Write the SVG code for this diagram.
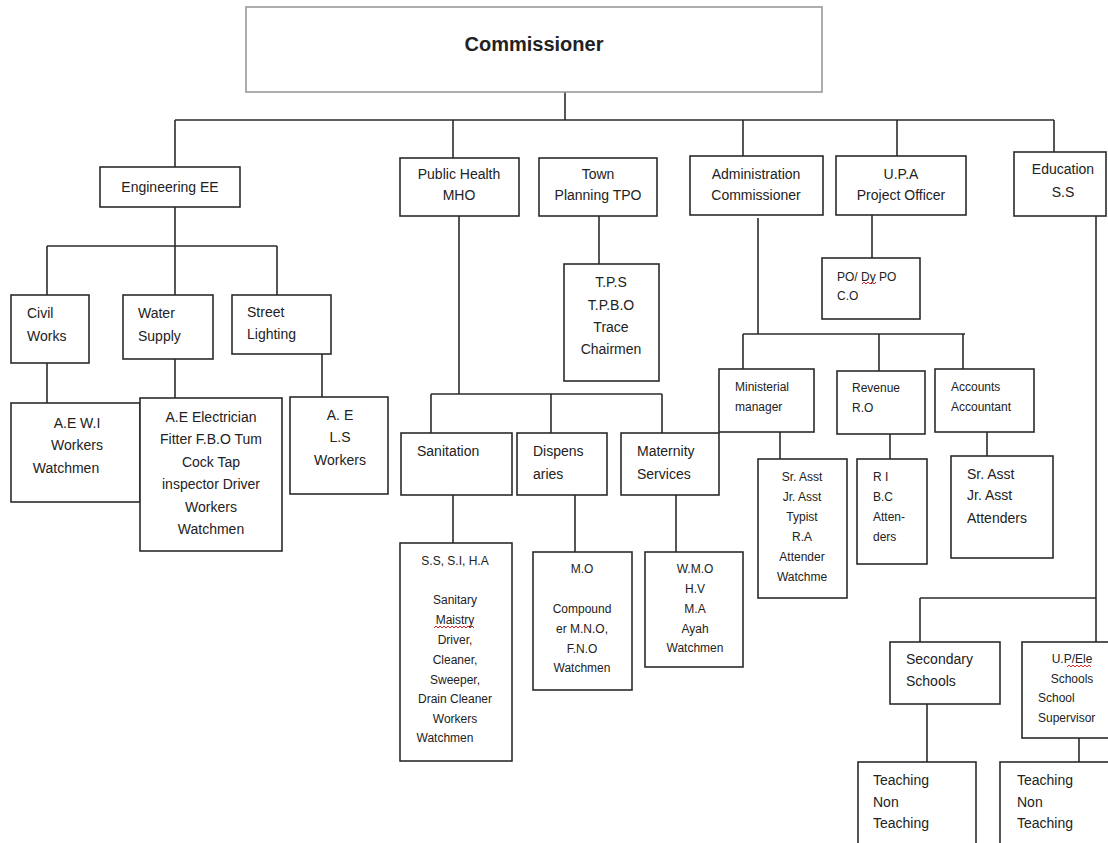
<svg xmlns="http://www.w3.org/2000/svg" width="1108" height="843" viewBox="0 0 1108 843">
<style>
rect{fill:#fff;stroke:#2b2b2b;stroke-width:1.6}
rect.top{stroke:#999}
#connectors line{stroke:#2b2b2b;stroke-width:1.6}
text{font-family:"Liberation Sans",Arial,sans-serif;fill:#222}
.m{font-size:14px}
.s{font-size:12px}
.c{text-anchor:middle}
.sq{fill:none;stroke:#e02020;stroke-width:1}
</style>
<rect x="0" y="0" width="1108" height="843" style="fill:#fff;stroke:none"/>
<g id="connectors">
<line x1="565" y1="92" x2="565" y2="120"/>
<line x1="175" y1="120" x2="1054" y2="120"/>
<line x1="175" y1="120" x2="175" y2="167"/>
<line x1="453" y1="120" x2="453" y2="158"/>
<line x1="743" y1="120" x2="743" y2="156"/>
<line x1="897" y1="120" x2="897" y2="156"/>
<line x1="1054" y1="120" x2="1054" y2="152"/>
<line x1="175" y1="207" x2="175" y2="295"/>
<line x1="47" y1="246" x2="277" y2="246"/>
<line x1="47" y1="246" x2="47" y2="295"/>
<line x1="277" y1="246" x2="277" y2="295"/>
<line x1="47" y1="363" x2="47" y2="403"/>
<line x1="175" y1="359" x2="175" y2="398"/>
<line x1="322" y1="354" x2="322" y2="397"/>
<line x1="599" y1="216" x2="599" y2="264"/>
<line x1="459" y1="216" x2="459" y2="394"/>
<line x1="431" y1="394" x2="662" y2="394"/>
<line x1="431" y1="394" x2="431" y2="433"/>
<line x1="551" y1="394" x2="551" y2="433"/>
<line x1="662" y1="394" x2="662" y2="433"/>
<line x1="453" y1="495" x2="453" y2="543"/>
<line x1="575" y1="495" x2="575" y2="552"/>
<line x1="676" y1="495" x2="676" y2="552"/>
<line x1="872" y1="215" x2="872" y2="258"/>
<line x1="758" y1="218" x2="758" y2="334"/>
<line x1="743" y1="334" x2="965" y2="334"/>
<line x1="743" y1="334" x2="743" y2="369"/>
<line x1="879" y1="334" x2="879" y2="371"/>
<line x1="963" y1="334" x2="963" y2="369"/>
<line x1="780" y1="432" x2="780" y2="459"/>
<line x1="890" y1="434" x2="890" y2="459"/>
<line x1="987" y1="432" x2="987" y2="456"/>
<line x1="1096" y1="216" x2="1096" y2="642"/>
<line x1="920" y1="598" x2="1096" y2="598"/>
<line x1="920" y1="598" x2="920" y2="642"/>
<line x1="927" y1="704" x2="927" y2="762"/>
<line x1="1079" y1="738" x2="1079" y2="762"/>
</g>
<g id="commissioner">
<rect class="top" x="246" y="7" width="576" height="85"/>
<text x="534" y="51" class="c" style="font-size:20px;font-weight:bold">Commissioner</text>
</g>
<g id="engineering">
<rect x="100" y="167" width="140" height="40"/>
<text x="170" y="192" class="m c">Engineering EE</text>
</g>
<g id="civil-works">
<rect x="11" y="295" width="78" height="68"/>
<text x="27" y="318" class="m">Civil</text>
<text x="27" y="341" class="m">Works</text>
</g>
<g id="water-supply">
<rect x="123" y="295" width="90" height="64"/>
<text x="138" y="318" class="m">Water</text>
<text x="138" y="341" class="m">Supply</text>
</g>
<g id="street-lighting">
<rect x="232" y="295" width="99" height="59"/>
<text x="247" y="317" class="m">Street</text>
<text x="247" y="339" class="m">Lighting</text>
</g>
<g id="civil-staff">
<rect x="11" y="403" width="129" height="99"/>
<text x="77" y="428" class="m c">A.E W.I</text>
<text x="77" y="450" class="m c">Workers</text>
<text x="66" y="473" class="m c">Watchmen</text>
</g>
<g id="water-staff">
<rect x="140" y="398" width="142" height="153"/>
<text x="211" y="422" class="m c">A.E Electrician</text>
<text x="211" y="444" class="m c">Fitter F.B.O Tum</text>
<text x="211" y="467" class="m c">Cock Tap</text>
<text x="211" y="489" class="m c">inspector Driver</text>
<text x="211" y="512" class="m c">Workers</text>
<text x="211" y="534" class="m c">Watchmen</text>
</g>
<g id="street-staff">
<rect x="290" y="397" width="98" height="97"/>
<text x="340" y="420" class="m c">A.  E</text>
<text x="340" y="442" class="m c">L.S</text>
<text x="340" y="465" class="m c">Workers</text>
</g>
<g id="public-health">
<rect x="400" y="158" width="119" height="58"/>
<text x="459" y="179" class="m c">Public Health</text>
<text x="459" y="200" class="m c">MHO</text>
</g>
<g id="town-planning">
<rect x="539" y="158" width="118" height="58"/>
<text x="598" y="179" class="m c">Town</text>
<text x="598" y="200" class="m c">Planning TPO</text>
</g>
<g id="town-staff">
<rect x="564" y="264" width="95" height="117"/>
<text x="611" y="287" class="m c">T.P.S</text>
<text x="611" y="310" class="m c">T.P.B.O</text>
<text x="611" y="332" class="m c">Trace</text>
<text x="611" y="354" class="m c">Chairmen</text>
</g>
<g id="administration">
<rect x="690" y="156" width="133" height="59"/>
<text x="756" y="179" class="m c">Administration</text>
<text x="756" y="200" class="m c">Commissioner</text>
</g>
<g id="upa">
<rect x="836" y="156" width="130" height="59"/>
<text x="901" y="179" class="m c">U.P.A</text>
<text x="901" y="200" class="m c">Project Officer</text>
</g>
<g id="upa-staff">
<rect x="822" y="258" width="98" height="61"/>
<text x="837" y="281" class="s">PO/ Dy PO</text>
<text x="837" y="300" class="s">C.O</text>
<polyline class="sq" points="862,284 864,282 866,284 868,282 870,284 872,282 874,284 876,282"/>
</g>
<g id="education">
<rect x="1014" y="152" width="92" height="64"/>
<text x="1063" y="174" class="m c">Education</text>
<text x="1063" y="197" class="m c">S.S</text>
</g>
<g id="sanitation">
<rect x="401" y="433" width="111" height="62"/>
<text x="417" y="456" class="m">Sanitation</text>
</g>
<g id="dispensaries">
<rect x="517" y="433" width="90" height="62"/>
<text x="533" y="456" class="m">Dispens</text>
<text x="533" y="479" class="m">aries</text>
</g>
<g id="maternity">
<rect x="621" y="433" width="98" height="62"/>
<text x="637" y="456" class="m">Maternity</text>
<text x="637" y="479" class="m">Services</text>
</g>
<g id="sanitation-staff">
<rect x="400" y="543" width="112" height="218"/>
<text x="455" y="565" class="s c">S.S, S.I,  H.A</text>
<text x="455" y="604" class="s c">Sanitary</text>
<text x="455" y="624" class="s c">Maistry</text>
<polyline class="sq" points="434,628 436,626 438,628 440,626 442,628 444,626 446,628 448,626 450,628 452,626 454,628 456,626 458,628 460,626 462,628 464,626 466,628 468,626 470,628 472,626 474,628"/>
<text x="455" y="644" class="s c">Driver,</text>
<text x="455" y="664" class="s c">Cleaner,</text>
<text x="455" y="684" class="s c">Sweeper,</text>
<text x="455" y="703" class="s c">Drain Cleaner</text>
<text x="455" y="723" class="s c">Workers</text>
<text x="445" y="742" class="s c">Watchmen</text>
</g>
<g id="dispensary-staff">
<rect x="533" y="552" width="99" height="138"/>
<text x="582" y="573" class="s c">M.O</text>
<text x="582" y="613" class="s c">Compound</text>
<text x="582" y="633" class="s c">er M.N.O,</text>
<text x="582" y="653" class="s c">F.N.O</text>
<text x="582" y="672" class="s c">Watchmen</text>
</g>
<g id="maternity-staff">
<rect x="645" y="552" width="98" height="115"/>
<text x="695" y="573" class="s c">W.M.O</text>
<text x="695" y="593" class="s c">H.V</text>
<text x="695" y="613" class="s c">M.A</text>
<text x="695" y="633" class="s c">Ayah</text>
<text x="695" y="652" class="s c">Watchmen</text>
</g>
<g id="ministerial">
<rect x="719" y="369" width="95" height="63"/>
<text x="735" y="391" class="s">Ministerial</text>
<text x="735" y="411" class="s">manager</text>
</g>
<g id="ministerial-staff">
<rect x="758" y="459" width="89" height="139"/>
<text x="802" y="481" class="s c">Sr. Asst</text>
<text x="802" y="501" class="s c">Jr. Asst</text>
<text x="802" y="521" class="s c">Typist</text>
<text x="802" y="541" class="s c">R.A</text>
<text x="802" y="561" class="s c">Attender</text>
<text x="802" y="581" class="s c">Watchme</text>
</g>
<g id="revenue">
<rect x="837" y="371" width="88" height="63"/>
<text x="852" y="392" class="s">Revenue</text>
<text x="852" y="412" class="s">R.O</text>
</g>
<g id="revenue-staff">
<rect x="857" y="459" width="70" height="105"/>
<text x="873" y="481" class="s">R I</text>
<text x="873" y="501" class="s">B.C</text>
<text x="873" y="521" class="s">Atten-</text>
<text x="873" y="541" class="s">ders</text>
</g>
<g id="accounts">
<rect x="935" y="369" width="99" height="63"/>
<text x="951" y="391" class="s">Accounts</text>
<text x="951" y="411" class="s">Accountant</text>
</g>
<g id="accounts-staff">
<rect x="951" y="456" width="102" height="102"/>
<text x="967" y="479" class="m">Sr. Asst</text>
<text x="967" y="500" class="m">Jr. Asst</text>
<text x="967" y="523" class="m">Attenders</text>
</g>
<g id="secondary-schools">
<rect x="890" y="642" width="110" height="62"/>
<text x="906" y="664" class="m">Secondary</text>
<text x="906" y="686" class="m">Schools</text>
</g>
<g id="up-schools">
<rect x="1022" y="642" width="92" height="96"/>
<text x="1072" y="663" class="s c">U.P/Ele</text>
<polyline class="sq" points="1067,667 1069,665 1071,667 1073,665 1075,667 1077,665 1079,667 1081,665 1083,667 1085,665 1087,667 1089,665 1091,667"/>
<text x="1072" y="683" class="s c">Schools</text>
<text x="1038" y="702" class="s">School</text>
<text x="1038" y="722" class="s">Supervisor</text>
</g>
<g id="secondary-staff">
<rect x="858" y="762" width="118" height="90"/>
<text x="873" y="785" class="m">Teaching</text>
<text x="873" y="807" class="m">Non</text>
<text x="873" y="828" class="m">Teaching</text>
</g>
<g id="up-staff">
<rect x="1000" y="762" width="114" height="90"/>
<text x="1017" y="785" class="m">Teaching</text>
<text x="1017" y="807" class="m">Non</text>
<text x="1017" y="828" class="m">Teaching</text>
</g>
</svg>
